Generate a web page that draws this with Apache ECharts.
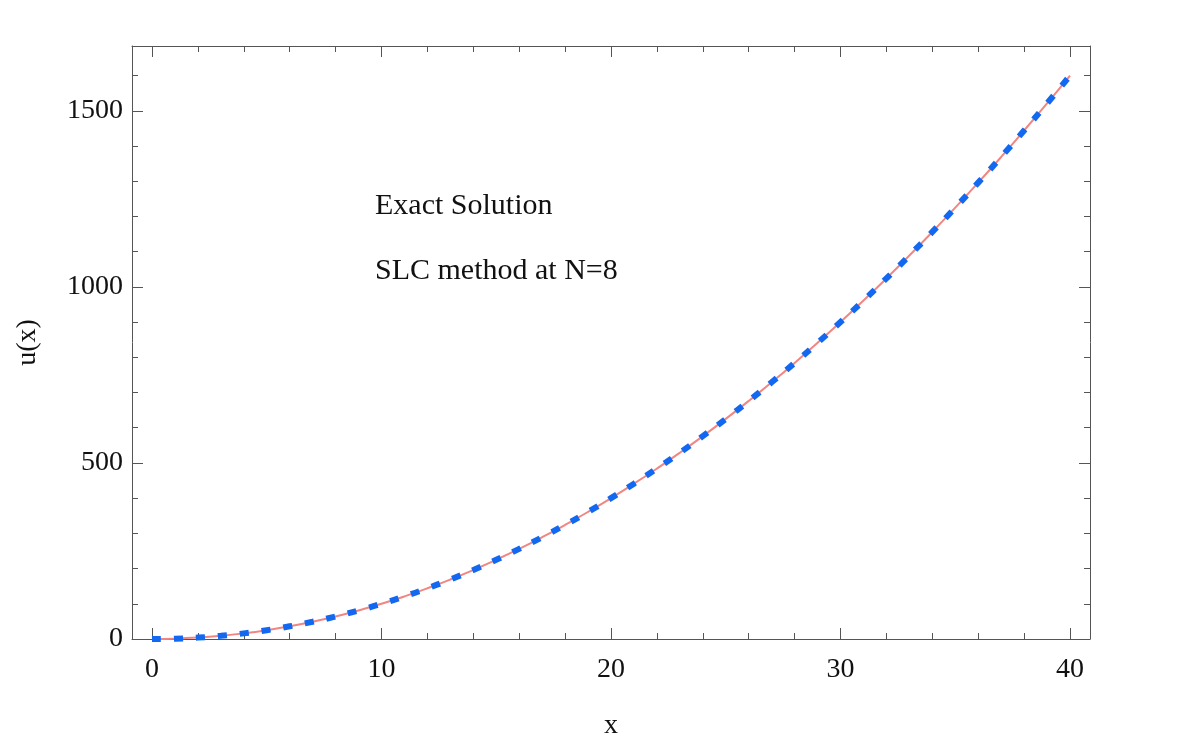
<!DOCTYPE html>
<html>
<head>
<meta charset="utf-8">
<title>u(x)</title>
<script src="https://cdn.jsdelivr.net/npm/echarts@6/dist/echarts.min.js"></script>
<style>
  html, body { margin: 0; padding: 0; background: #fff; }
  #chart { width: 1200px; height: 746px; }
</style>
</head>
<body>
<div id="chart"></div>
<script>
// values
const xValues = [0, 1, 2, 3, 4, 5, 6, 7, 8, 9, 10, 11, 12, 13, 14, 15, 16, 17, 18, 19, 20,
  21, 22, 23, 24, 25, 26, 27, 28, 29, 30, 31, 32, 33, 34, 35, 36, 37, 38, 39, 40]
const exactValues = [0, 1, 4, 9, 16, 25, 36, 49, 64, 81, 100, 121, 144, 169, 196, 225, 256, 289, 324, 361, 400,
  441, 484, 529, 576, 625, 676, 729, 784, 841, 900, 961, 1024, 1089, 1156, 1225, 1296, 1369, 1444, 1521, 1600]
const slcValues = [0, 1, 4, 9, 16, 25, 36, 49, 64, 81, 100, 121, 144, 169, 196, 225, 256, 289, 324, 361, 400,
  441, 484, 529, 576, 625, 676, 729, 784, 841, 900, 961, 1024, 1089, 1156, 1225, 1296, 1369, 1444, 1521, 1600]
const xMajor = [0, 10, 20, 30, 40]
const xMinor = [2, 4, 6, 8, 12, 14, 16, 18, 22, 24, 26, 28, 32, 34, 36, 38]
const yMajor = [0, 500, 1000, 1500]
const yMinor = [100, 200, 300, 400, 600, 700, 800, 900, 1100, 1200, 1300, 1400, 1600]
const seriesNames = ['Exact Solution', 'SLC method at N=8']

const FONT = 'Liberation Serif'
const FRAME = '#555'
const X_MIN = -0.87
const X_MAX = 40.87
const Y_MIN = 0
const Y_MAX = 1684

const charts = echarts.init(document.getElementById('chart'))

// one axis per tick set and side (frame with inward ticks on all four sides)
function xAxisFor (position, ticks, len, showLine, labels) {
  return {
    type: 'value',
    position: position,
    min: X_MIN,
    max: X_MAX,
    axisLine: { show: showLine, onZero: false, lineStyle: { color: FRAME, width: 1 } },
    axisTick: { show: true, inside: true, length: len, customValues: ticks, lineStyle: { color: FRAME, width: 1 } },
    axisLabel: labels ? {
      show: true, customValues: ticks, margin: 17,
      formatter: v => String(v),
      fontFamily: FONT, fontSize: 28, color: '#111'
    } : { show: false },
    splitLine: { show: false }
  }
}
function yAxisFor (position, ticks, len, showLine, labels) {
  return {
    type: 'value',
    position: position,
    min: Y_MIN,
    max: Y_MAX,
    axisLine: { show: showLine, onZero: false, lineStyle: { color: FRAME, width: 1 } },
    axisTick: { show: true, inside: true, length: len, customValues: ticks, lineStyle: { color: FRAME, width: 1 } },
    axisLabel: labels ? {
      show: true, customValues: ticks, margin: 9,
      padding: [4, 0, 0, 0],
      formatter: v => String(v),
      fontFamily: FONT, fontSize: 28, color: '#111'
    } : { show: false },
    splitLine: { show: false }
  }
}

const xAxes = [
  xAxisFor('bottom', xMajor, 11, true, true),
  xAxisFor('bottom', xMinor, 6, false, false),
  xAxisFor('top', xMajor, 11, true, false),
  xAxisFor('top', xMinor, 6, false, false)
]
xAxes[0].name = 'x'
xAxes[0].nameLocation = 'middle'
xAxes[0].nameGap = 73
xAxes[0].nameTextStyle = { fontFamily: FONT, fontSize: 28, color: '#111' }

const yAxes = [
  yAxisFor('left', yMajor, 11, true, true),
  yAxisFor('left', yMinor, 6, false, false),
  yAxisFor('right', yMajor, 11, true, false),
  yAxisFor('right', yMinor, 6, false, false)
]
yAxes[0].name = 'u(x)'
yAxes[0].nameLocation = 'middle'
yAxes[0].nameGap = 90
yAxes[0].nameTextStyle = { fontFamily: FONT, fontSize: 28, color: '#111' }

// legend icon: short faint line, wide box so the text sits further right
const legendIcon = 'path://M0,0M0,14M0,7L30,7M58,7'

const option = {
  backgroundColor: '#fff',
  animation: false,
  grid: { left: 132, right: 110, top: 46, bottom: 107 },
  legend: {
    orient: 'vertical',
    left: 307,
    top: 186,
    itemWidth: 58,
    itemHeight: 14,
    itemGap: 35,
    textStyle: { fontFamily: FONT, fontSize: 30, color: '#111' },
    data: [
      { name: seriesNames[0], icon: legendIcon, itemStyle: { opacity: 0 }, lineStyle: { color: '#f5d6d6', width: 1 } },
      { name: seriesNames[1], icon: legendIcon, itemStyle: { opacity: 0 }, lineStyle: { color: '#d2e2f8', width: 1, type: 'dotted' } }
    ]
  },
  xAxis: xAxes,
  yAxis: yAxes,
  series: [
    {
      name: seriesNames[0],
      type: 'line',
      xAxisIndex: 0,
      yAxisIndex: 0,
      data: xValues.map((x, i) => [x, exactValues[i]]),
      symbol: 'none',
      smooth: true,
      lineStyle: { color: '#f08682', width: 2 },
      itemStyle: { color: '#f08682' },
      z: 2
    },
    {
      name: seriesNames[1],
      type: 'line',
      xAxisIndex: 0,
      yAxisIndex: 0,
      data: xValues.map((x, i) => [x, slcValues[i]]),
      symbol: 'none',
      smooth: true,
      lineStyle: { color: '#1268f0', width: 6, type: [9, 13], cap: 'butt' },
      itemStyle: { color: '#1268f0' },
      z: 3
    }
  ]
}
charts.setOption(option)
</script>
</body>
</html>
